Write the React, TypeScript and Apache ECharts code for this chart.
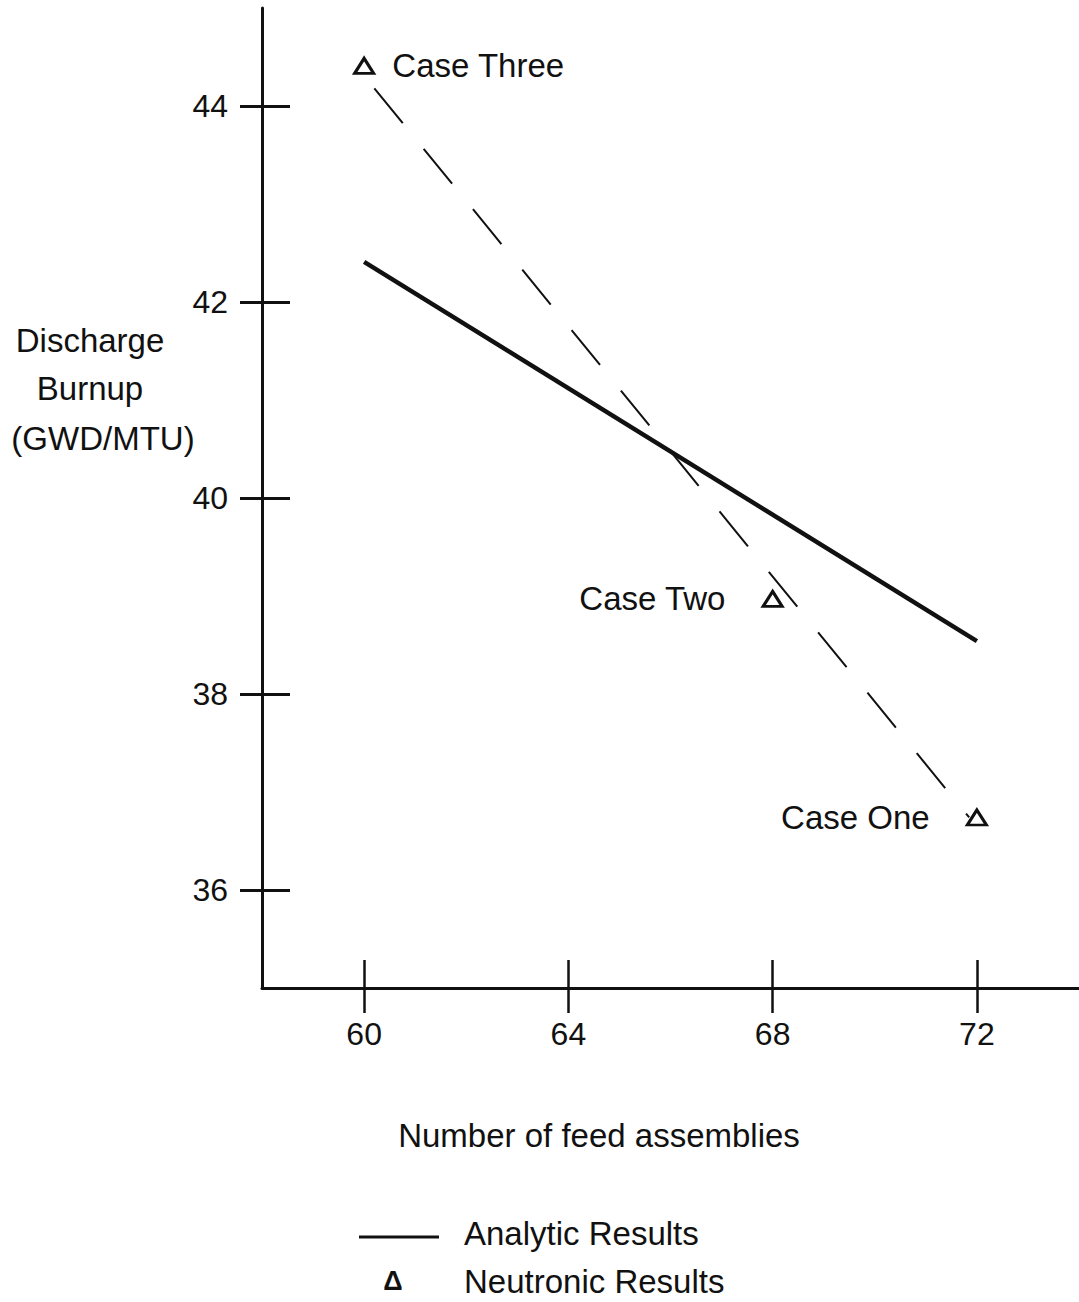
import React, { useEffect, useRef } from "react";
import * as echarts from "echarts";

const xTicks = [60, 64, 68, 72];
const yTicks = [36, 38, 40, 42, 44];

const analyticX = [60, 72];
const analyticY = [42.41, 38.54];

const neutronicX = [60, 68, 72];
const neutronicY = [44.41, 38.97, 36.74];
const caseLabels = ["Case Three", "Case Two", "Case One"];

const trendX = [60.2, 71.85];
const trendY = [44.18, 36.74];

const FONT = "'Liberation Sans', Arial, Helvetica, sans-serif";
const INK = "#111";
const FS = 33;

export default function App() {
  const ref = useRef<HTMLDivElement>(null);
  useEffect(() => {
    if (!ref.current) return;
    const chart = echarts.init(ref.current, null, { renderer: "svg" });
    const labelPos = ["right", "left", "left"];
    const labelDist = [17, 36, 36];
    const option: any = {
      animation: false,
      backgroundColor: "#fff",
      textStyle: { fontFamily: FONT, color: INK },
      grid: { left: 262, right: 0, top: 8, height: 980 },
      xAxis: [
        {
          type: "value",
          min: 58,
          max: 74,
          position: "bottom",
          axisLine: { show: true, onZero: false, lineStyle: { color: INK, width: 3 } },
          axisTick: { show: true, customValues: xTicks, length: 25, lineStyle: { color: INK, width: 2.5 } },
          axisLabel: { customValues: xTicks, margin: 30, fontSize: 32, color: INK, fontFamily: FONT },
          splitLine: { show: false },
        },
        {
          type: "value",
          min: 58,
          max: 74,
          position: "bottom",
          axisLine: { show: false },
          axisTick: { show: true, inside: true, customValues: xTicks, length: 28, lineStyle: { color: INK, width: 2.5 } },
          axisLabel: { show: false },
          splitLine: { show: false },
        },
      ],
      yAxis: [
        {
          type: "value",
          min: 35,
          max: 45,
          position: "left",
          axisLine: { show: true, onZero: false, lineStyle: { color: INK, width: 3 } },
          axisTick: { show: true, customValues: yTicks, length: 22, lineStyle: { color: INK, width: 3 } },
          axisLabel: { customValues: yTicks, margin: 34, fontSize: 32, color: INK, fontFamily: FONT },
          splitLine: { show: false },
        },
        {
          type: "value",
          min: 35,
          max: 45,
          position: "left",
          axisLine: { show: false },
          axisTick: { show: true, inside: true, customValues: yTicks, length: 28, lineStyle: { color: INK, width: 3 } },
          axisLabel: { show: false },
          splitLine: { show: false },
        },
      ],
      series: [
        {
          type: "line",
          xAxisIndex: 0,
          yAxisIndex: 0,
          data: trendX.map((x, i) => [x, trendY[i]]),
          showSymbol: false,
          lineStyle: { color: INK, width: 2, type: [45, 33] },
        },
        {
          type: "line",
          xAxisIndex: 0,
          yAxisIndex: 0,
          data: analyticX.map((x, i) => [x, analyticY[i]]),
          showSymbol: false,
          lineStyle: { color: INK, width: 4.5 },
        },
        {
          type: "scatter",
          xAxisIndex: 0,
          yAxisIndex: 0,
          symbol: "triangle",
          symbolSize: [19, 15],
          itemStyle: { color: "#fff", borderColor: INK, borderWidth: 3, opacity: 1 },
          data: neutronicX.map((x, i) => ({
            value: [x, neutronicY[i]],
            name: caseLabels[i],
            label: {
              show: true,
              position: labelPos[i],
              distance: labelDist[i],
              formatter: "{b}",
              fontSize: FS,
              color: INK,
              opacity: 1,
              fontFamily: FONT,
            },
          })),
        },
      ],
      graphic: [
        {
          type: "text",
          x: 90,
          y: 340,
          style: {
            text: "Discharge",
            align: "center",
            verticalAlign: "middle",
            font: `${FS}px ${FONT}`,
            fill: INK,
          },
        },
        {
          type: "text",
          x: 90,
          y: 388,
          style: {
            text: "Burnup",
            align: "center",
            verticalAlign: "middle",
            font: `${FS}px ${FONT}`,
            fill: INK,
          },
        },
        {
          type: "text",
          x: 103,
          y: 438,
          style: {
            text: "(GWD/MTU)",
            align: "center",
            verticalAlign: "middle",
            font: `${FS}px ${FONT}`,
            fill: INK,
          },
        },
        {
          type: "text",
          x: 599,
          y: 1135,
          style: {
            text: "Number of feed assemblies",
            align: "center",
            verticalAlign: "middle",
            font: `${FS}px ${FONT}`,
            fill: INK,
          },
        },
        {
          type: "line",
          shape: { x1: 359, y1: 1237, x2: 439, y2: 1237 },
          style: { stroke: INK, lineWidth: 3 },
        },
        {
          type: "text",
          x: 464,
          y: 1233,
          style: {
            text: "Analytic Results",
            align: "left",
            verticalAlign: "middle",
            font: `${FS}px ${FONT}`,
            fill: INK,
          },
        },
        {
          type: "text",
          x: 393,
          y: 1281,
          style: {
            text: "Δ",
            align: "center",
            verticalAlign: "middle",
            font: `bold 27px ${FONT}`,
            fill: INK,
          },
        },
        {
          type: "text",
          x: 464,
          y: 1281,
          style: {
            text: "Neutronic Results",
            align: "left",
            verticalAlign: "middle",
            font: `${FS}px ${FONT}`,
            fill: INK,
          },
        },
      ],
    };
    chart.setOption(option);
    return () => chart.dispose();
  }, []);
  return <div ref={ref} style={{ width: 1079, height: 1302, position: "absolute", left: 0, top: 0 }} />;
}
